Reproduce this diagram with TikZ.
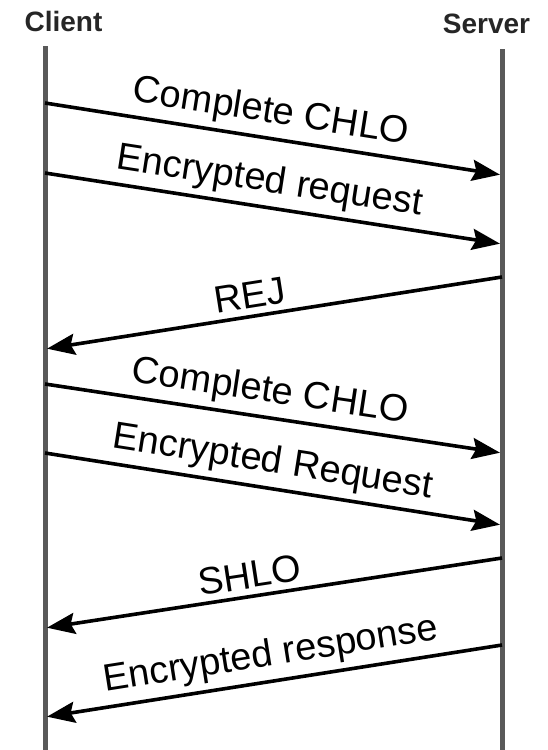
\documentclass[tikz,border=0pt]{standalone}
\usepackage{fontspec}
\setmainfont{Liberation Sans}
\usetikzlibrary{arrows.meta}

\begin{document}
\begin{tikzpicture}[x=1pt, y=-1pt,
  party/.style={font=\bfseries\fontsize{28}{30}\selectfont, text=black!85, inner sep=0pt, anchor=base},
  lifeline/.style={draw=black!65, line width=5pt},
  msg/.style={draw=black, line width=3.6pt,
    -{Stealth[length=28pt, width=21pt, inset=4pt]}, shorten >=2pt},
  msglabel/.style={font=\fontsize{38}{40}\selectfont, sloped, above, inner sep=6pt}
]
\useasboundingbox (0,0) rectangle (548,750);

% participants
\node[party] (client) at (63.5,31) {Client};
\node[party] (server) at (486.5,33) {Server};

% lifelines
\coordinate (ctop) at (45,46);
\coordinate (cbot) at (45,750);
\coordinate (stop) at (502,49);
\coordinate (sbot) at (502,750);
\draw[lifeline] (ctop) -- (cbot);
\draw[lifeline] (stop) -- (sbot);

% message end points on the lifelines
\coordinate (c1) at (45,103);  \coordinate (s1) at (502,175);
\coordinate (c2) at (45,173);  \coordinate (s2) at (502,244);
\coordinate (s3) at (502,277); \coordinate (c3) at (45,349);
\coordinate (c4) at (45,384);  \coordinate (s4) at (502,453);
\coordinate (c5) at (45,453);  \coordinate (s5) at (502,525);
\coordinate (s6) at (502,558); \coordinate (c6) at (45,628);
\coordinate (s7) at (502,645); \coordinate (c7) at (45,717);

% messages
\draw[msg] (c1) -- node[msglabel, pos=0.486] {Complete CHLO} (s1);
\draw[msg] (c2) -- node[msglabel, pos=0.483] {Encrypted request} (s2);
\draw[msg] (s3) -- node[msglabel, pos=0.545] {REJ} (c3);
\draw[msg] (c4) -- node[msglabel, pos=0.484] {Complete CHLO} (s4);
\draw[msg] (c5) -- node[msglabel, pos=0.49] {Encrypted Request} (s5);
\draw[msg] (s6) -- node[msglabel, pos=0.545] {SHLO} (c6);
\draw[msg] (s7) -- node[msglabel, pos=0.497] {Encrypted response} (c7);
\end{tikzpicture}
\end{document}
